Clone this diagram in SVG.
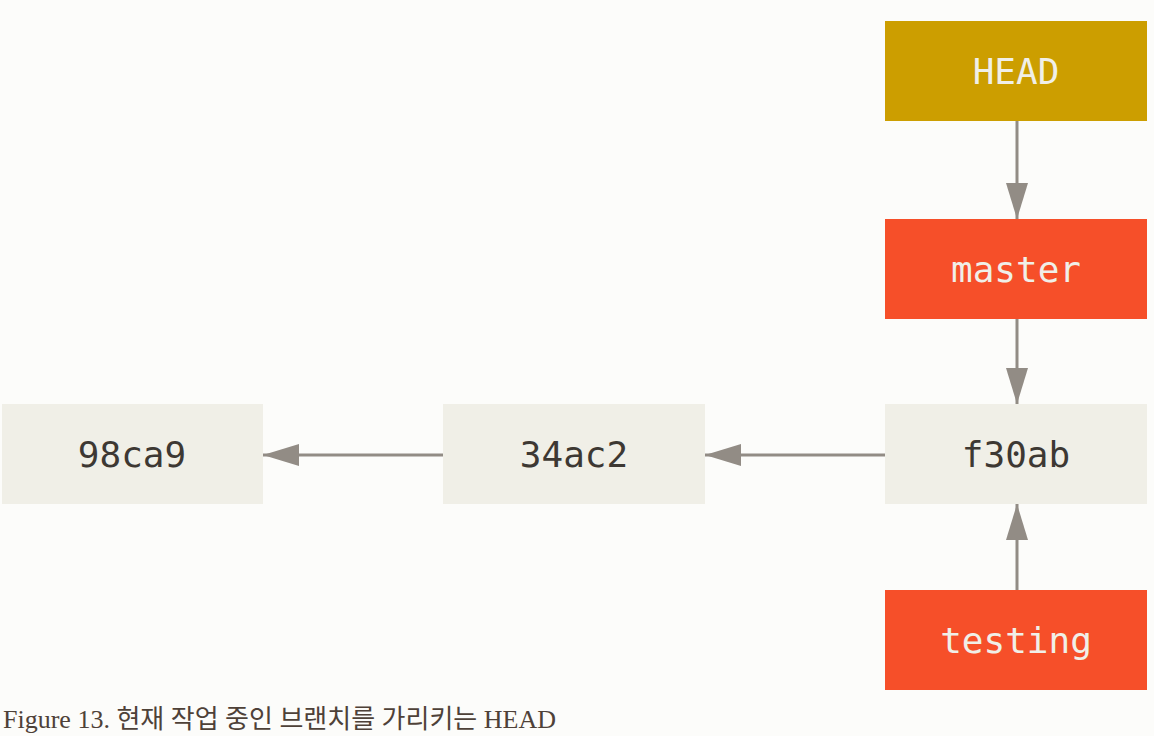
<svg xmlns="http://www.w3.org/2000/svg" width="1154" height="736" viewBox="0 0 1154 736">
<style>
.lbl{font-family:"DejaVu Sans Mono","Liberation Mono",monospace;font-size:36px;text-anchor:middle}
.light{fill:#f0efe8}
.dark{fill:#3d3833}
.commit{fill:#f0efe7}
.branch{fill:#f64f29}
.head{fill:#cc9e00}
.conn{stroke:#928c85;stroke-width:3;fill:none}
.cap{font-family:"Liberation Serif","Noto Sans CJK KR",serif;font-size:26px;fill:#4e4138}
</style>
<defs>
<marker id="arr" viewBox="0 0 36 22" refX="36" refY="11" markerWidth="36" markerHeight="22" orient="auto" markerUnits="userSpaceOnUse">
<path d="M0,0 L36,11 L0,22 z" fill="#928c85"/>
</marker>
</defs>
<rect width="1154" height="736" fill="#fcfcfa"/>
<g id="connectors">
<line class="conn" x1="1017" y1="121" x2="1017" y2="219" marker-end="url(#arr)"/>
<line class="conn" x1="1017" y1="319" x2="1017" y2="404" marker-end="url(#arr)"/>
<line class="conn" x1="1017" y1="590" x2="1017" y2="504" marker-end="url(#arr)"/>
<line class="conn" x1="885" y1="455" x2="705" y2="455" marker-end="url(#arr)"/>
<line class="conn" x1="443" y1="455" x2="263" y2="455" marker-end="url(#arr)"/>
</g>
<g id="head">
<rect class="head" x="885" y="21" width="262" height="100"/>
<text class="lbl light" x="1016" y="84">HEAD</text>
</g>
<g id="master">
<rect class="branch" x="885" y="219" width="262" height="100"/>
<text class="lbl light" x="1016" y="282">master</text>
</g>
<g id="f30ab">
<rect class="commit" x="885" y="404" width="262" height="100"/>
<text class="lbl dark" x="1016" y="467">f30ab</text>
</g>
<g id="c34ac2">
<rect class="commit" x="443" y="404" width="262" height="100"/>
<text class="lbl dark" x="574" y="467">34ac2</text>
</g>
<g id="c98ca9">
<rect class="commit" x="2" y="404" width="261" height="100"/>
<text class="lbl dark" x="132" y="467">98ca9</text>
</g>
<g id="testing">
<rect class="branch" x="885" y="590" width="262" height="100"/>
<text class="lbl light" x="1016" y="653">testing</text>
</g>
<text class="cap" x="3" y="728">Figure 13. 현재 작업 중인 브랜치를 가리키는 HEAD</text>
</svg>
